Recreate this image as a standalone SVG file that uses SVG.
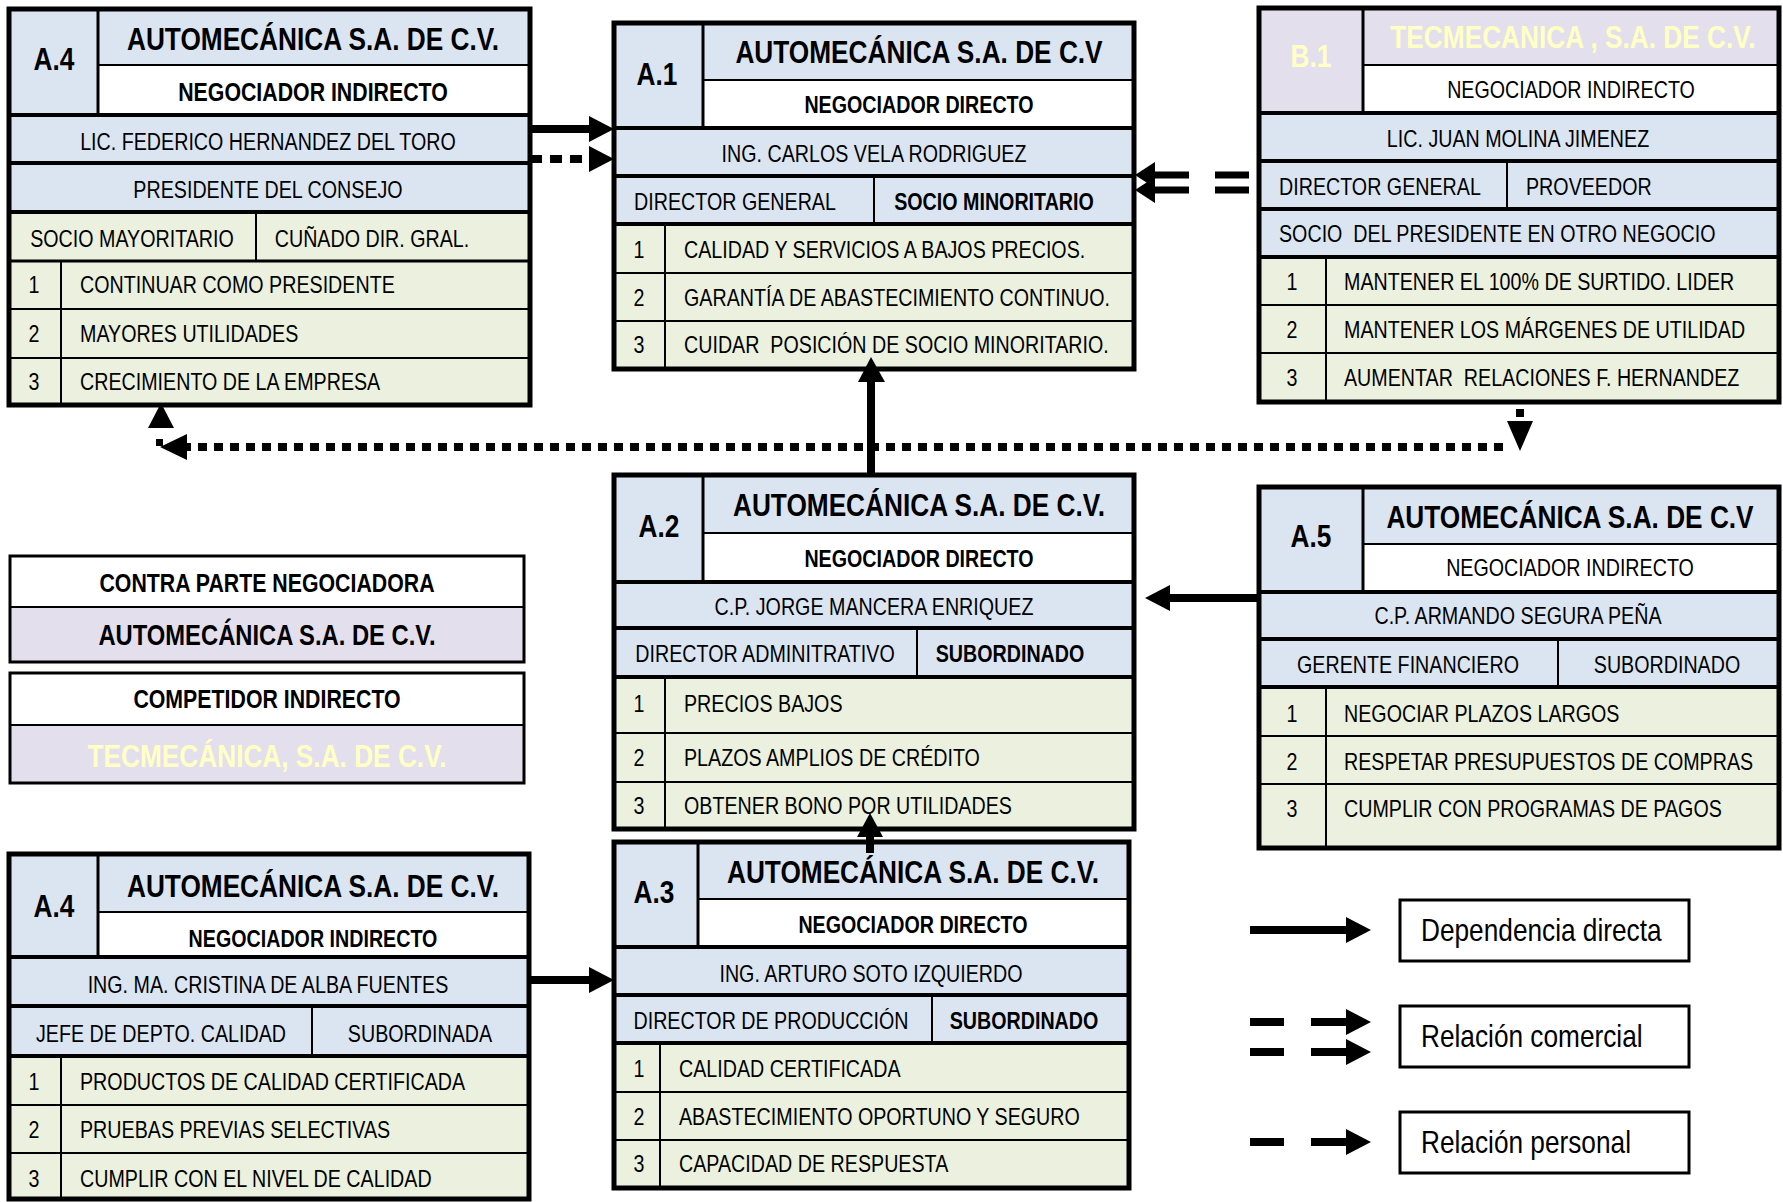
<svg xmlns="http://www.w3.org/2000/svg" width="1783" height="1202" viewBox="0 0 1783 1202">
<style>
text{font-family:"Liberation Sans",Arial,sans-serif;fill:#000}
.b{font-weight:bold}
.c{text-anchor:middle}
.f32{font-size:32px}.f26{font-size:26px}.f24{font-size:24px}.f29{font-size:29px}
.y{fill:#ffffc6}
.bl{fill:#dbe5f1}.gr{fill:#ebf1de}.pu{fill:#e4dfec}.wh{fill:#fff}
.o{fill:none;stroke:#000;stroke-width:5}
.o3{fill:none;stroke:#000;stroke-width:3}
.k{stroke:#000;stroke-width:4}
.n{stroke:#000;stroke-width:2}
.cn{stroke:#000;stroke-width:8;fill:none}
.dt{stroke:#000;stroke-width:8;stroke-dasharray:9 7;fill:none}
.ah{fill:#000}
</style>
<rect width="1783" height="1202" fill="#fff"/>

<!-- A.4 top -->
<g id="A4top">
<rect class="bl" x="9" y="9" width="89" height="106"/>
<rect class="bl" x="98" y="9" width="432" height="56"/>
<rect class="wh" x="98" y="65" width="432" height="50"/>
<rect class="bl" x="9" y="115" width="521" height="97"/>
<rect class="gr" x="9" y="212" width="521" height="193"/>
<line class="n" x1="98" y1="9" x2="98" y2="115" style="stroke-width:3"/>
<line class="n" x1="98" y1="65" x2="530" y2="65"/>
<line class="k" x1="9" y1="115" x2="530" y2="115"/>
<line class="k" x1="9" y1="163" x2="530" y2="163"/>
<line class="k" x1="9" y1="212" x2="530" y2="212"/>
<line class="n" x1="9" y1="261" x2="530" y2="261" style="stroke-width:3"/>
<line class="n" x1="256" y1="212" x2="256" y2="261"/>
<line class="n" x1="61" y1="261" x2="61" y2="405"/>
<line class="n" x1="9" y1="309" x2="530" y2="309"/>
<line class="n" x1="9" y1="358" x2="530" y2="358"/>
<rect class="o" x="9" y="9" width="521" height="396"/>
<text class="b c f32" transform="translate(54 70) scale(.82 1)">A.4</text>
<text class="b c f32" transform="translate(313 50) scale(.82 1)">AUTOMECÁNICA S.A. DE C.V.</text>
<text class="b c f26" transform="translate(313 101) scale(.82 1)">NEGOCIADOR INDIRECTO</text>
<text class="c f24" transform="translate(268 150) scale(.82 1)">LIC. FEDERICO HERNANDEZ DEL TORO</text>
<text class="c f24" transform="translate(268 198) scale(.82 1)">PRESIDENTE DEL CONSEJO</text>
<text class="c f24" transform="translate(132 247) scale(.82 1)">SOCIO MAYORITARIO</text>
<text class="c f24" transform="translate(372 247) scale(.82 1)">CUÑADO DIR. GRAL.</text>
<text class="c f24" transform="translate(34 293) scale(.82 1)">1</text>
<text class="f24" transform="translate(80 293) scale(.82 1)">CONTINUAR COMO PRESIDENTE</text>
<text class="c f24" transform="translate(34 342) scale(.82 1)">2</text>
<text class="f24" transform="translate(80 342) scale(.82 1)">MAYORES UTILIDADES</text>
<text class="c f24" transform="translate(34 390) scale(.82 1)">3</text>
<text class="f24" transform="translate(80 390) scale(.82 1)">CRECIMIENTO DE LA EMPRESA</text>
</g>

<!-- A.1 -->
<g id="A1">
<rect class="bl" x="614" y="23" width="89" height="105"/>
<rect class="bl" x="703" y="23" width="431" height="57"/>
<rect class="wh" x="703" y="80" width="431" height="48"/>
<rect class="bl" x="614" y="128" width="520" height="96"/>
<rect class="gr" x="614" y="224" width="520" height="145"/>
<line class="n" x1="703" y1="23" x2="703" y2="128" style="stroke-width:3"/>
<line class="n" x1="703" y1="80" x2="1134" y2="80"/>
<line class="k" x1="614" y1="128" x2="1134" y2="128"/>
<line class="k" x1="614" y1="176" x2="1134" y2="176"/>
<line class="k" x1="614" y1="224" x2="1134" y2="224"/>
<line class="n" x1="874" y1="176" x2="874" y2="224"/>
<line class="n" x1="665" y1="224" x2="665" y2="369"/>
<line class="n" x1="614" y1="273" x2="1134" y2="273"/>
<line class="n" x1="614" y1="321" x2="1134" y2="321"/>
<rect class="o" x="614" y="23" width="520" height="346"/>
<text class="b c f32" transform="translate(657 85) scale(.82 1)">A.1</text>
<text class="b c f32" transform="translate(919 63) scale(.82 1)">AUTOMECÁNICA S.A. DE C.V</text>
<text class="b c f24" transform="translate(919 113) scale(.82 1)">NEGOCIADOR DIRECTO</text>
<text class="c f24" transform="translate(874 162) scale(.82 1)">ING. CARLOS VELA RODRIGUEZ</text>
<text class="c f24" transform="translate(735 210) scale(.82 1)">DIRECTOR GENERAL</text>
<text class="b c f24" transform="translate(994 210) scale(.82 1)">SOCIO MINORITARIO</text>
<text class="c f24" transform="translate(639 258) scale(.82 1)">1</text>
<text class="f24" transform="translate(684 258) scale(.82 1)">CALIDAD Y SERVICIOS A BAJOS PRECIOS.</text>
<text class="c f24" transform="translate(639 306) scale(.82 1)">2</text>
<text class="f24" transform="translate(684 306) scale(.82 1)">GARANTÍA DE ABASTECIMIENTO CONTINUO.</text>
<text class="c f24" transform="translate(639 353) scale(.82 1)">3</text>
<text class="f24" transform="translate(684 353) scale(.82 1)" xml:space="preserve">CUIDAR  POSICIÓN DE SOCIO MINORITARIO.</text>
</g>

<!-- B.1 -->
<g id="B1">
<rect class="pu" x="1259" y="8" width="104" height="105"/>
<rect class="pu" x="1363" y="8" width="416" height="57"/>
<rect class="wh" x="1363" y="65" width="416" height="48"/>
<rect class="bl" x="1259" y="113" width="520" height="144"/>
<rect class="gr" x="1259" y="257" width="520" height="145"/>
<line class="n" x1="1363" y1="8" x2="1363" y2="113" style="stroke-width:3"/>
<line class="n" x1="1363" y1="65" x2="1779" y2="65"/>
<line class="k" x1="1259" y1="113" x2="1779" y2="113"/>
<line class="k" x1="1259" y1="161" x2="1779" y2="161"/>
<line class="k" x1="1259" y1="209" x2="1779" y2="209"/>
<line class="k" x1="1259" y1="257" x2="1779" y2="257"/>
<line class="n" x1="1507" y1="161" x2="1507" y2="209"/>
<line class="n" x1="1326" y1="257" x2="1326" y2="402"/>
<line class="n" x1="1259" y1="305" x2="1779" y2="305"/>
<line class="n" x1="1259" y1="353" x2="1779" y2="353"/>
<rect class="o" x="1259" y="8" width="520" height="394"/>
<text class="b c f32 y" transform="translate(1311 67) scale(.82 1)">B.1</text>
<text class="b c f32 y" transform="translate(1573 48) scale(.82 1)">TECMECANICA , S.A. DE C.V.</text>
<text class="c f24" transform="translate(1571 98) scale(.82 1)">NEGOCIADOR INDIRECTO</text>
<text class="c f24" transform="translate(1518 147) scale(.82 1)">LIC. JUAN MOLINA JIMENEZ</text>
<text class="f24" transform="translate(1279 195) scale(.82 1)">DIRECTOR GENERAL</text>
<text class="f24" transform="translate(1526 195) scale(.82 1)">PROVEEDOR</text>
<text class="f24" transform="translate(1279 242) scale(.82 1)" xml:space="preserve">SOCIO  DEL PRESIDENTE EN OTRO NEGOCIO</text>
<text class="c f24" transform="translate(1292 290) scale(.82 1)">1</text>
<text class="f24" transform="translate(1344 290) scale(.82 1)">MANTENER EL 100% DE SURTIDO. LIDER</text>
<text class="c f24" transform="translate(1292 338) scale(.82 1)">2</text>
<text class="f24" transform="translate(1344 338) scale(.82 1)">MANTENER LOS MÁRGENES DE UTILIDAD</text>
<text class="c f24" transform="translate(1292 386) scale(.82 1)">3</text>
<text class="f24" transform="translate(1344 386) scale(.82 1)" xml:space="preserve">AUMENTAR  RELACIONES F. HERNANDEZ</text>
</g>

<!-- A.2 -->
<g id="A2">
<rect class="bl" x="614" y="475" width="89" height="107"/>
<rect class="bl" x="703" y="475" width="431" height="58"/>
<rect class="wh" x="703" y="533" width="431" height="49"/>
<rect class="bl" x="614" y="582" width="520" height="95"/>
<rect class="gr" x="614" y="677" width="520" height="152"/>
<line class="n" x1="703" y1="475" x2="703" y2="582" style="stroke-width:3"/>
<line class="n" x1="703" y1="533" x2="1134" y2="533"/>
<line class="k" x1="614" y1="582" x2="1134" y2="582"/>
<line class="k" x1="614" y1="628" x2="1134" y2="628"/>
<line class="k" x1="614" y1="677" x2="1134" y2="677"/>
<line class="n" x1="917" y1="628" x2="917" y2="677"/>
<line class="n" x1="665" y1="677" x2="665" y2="829"/>
<line class="n" x1="614" y1="733" x2="1134" y2="733"/>
<line class="n" x1="614" y1="782" x2="1134" y2="782"/>
<rect class="o" x="614" y="475" width="520" height="354"/>
<text class="b c f32" transform="translate(659 537) scale(.82 1)">A.2</text>
<text class="b c f32" transform="translate(919 516) scale(.82 1)">AUTOMECÁNICA S.A. DE C.V.</text>
<text class="b c f24" transform="translate(919 567) scale(.82 1)">NEGOCIADOR DIRECTO</text>
<text class="c f24" transform="translate(874 615) scale(.82 1)">C.P. JORGE MANCERA ENRIQUEZ</text>
<text class="c f24" transform="translate(765 662) scale(.82 1)">DIRECTOR ADMINITRATIVO</text>
<text class="b c f24" transform="translate(1010 662) scale(.82 1)">SUBORDINADO</text>
<text class="c f24" transform="translate(639 712) scale(.82 1)">1</text>
<text class="f24" transform="translate(684 712) scale(.82 1)">PRECIOS BAJOS</text>
<text class="c f24" transform="translate(639 766) scale(.82 1)">2</text>
<text class="f24" transform="translate(684 766) scale(.82 1)">PLAZOS AMPLIOS DE CRÉDITO</text>
<text class="c f24" transform="translate(639 814) scale(.82 1)">3</text>
<text class="f24" transform="translate(684 814) scale(.82 1)">OBTENER BONO POR UTILIDADES</text>
</g>

<!-- A.3 -->
<g id="A3">
<rect class="bl" x="614" y="842" width="84" height="105"/>
<rect class="bl" x="698" y="842" width="431" height="57"/>
<rect class="wh" x="698" y="899" width="431" height="48"/>
<rect class="bl" x="614" y="947" width="515" height="96"/>
<rect class="gr" x="614" y="1043" width="515" height="145"/>
<line class="n" x1="698" y1="842" x2="698" y2="947" style="stroke-width:3"/>
<line class="n" x1="698" y1="899" x2="1129" y2="899"/>
<line class="k" x1="614" y1="947" x2="1129" y2="947"/>
<line class="k" x1="614" y1="995" x2="1129" y2="995"/>
<line class="k" x1="614" y1="1043" x2="1129" y2="1043"/>
<line class="n" x1="932" y1="995" x2="932" y2="1043"/>
<line class="n" x1="660" y1="1043" x2="660" y2="1188"/>
<line class="n" x1="614" y1="1092" x2="1129" y2="1092"/>
<line class="n" x1="614" y1="1140" x2="1129" y2="1140"/>
<rect class="o" x="614" y="842" width="515" height="346"/>
<text class="b c f32" transform="translate(654 903) scale(.82 1)">A.3</text>
<text class="b c f32" transform="translate(913 883) scale(.82 1)">AUTOMECÁNICA S.A. DE C.V.</text>
<text class="b c f24" transform="translate(913 933) scale(.82 1)">NEGOCIADOR DIRECTO</text>
<text class="c f24" transform="translate(871 982) scale(.82 1)">ING. ARTURO SOTO IZQUIERDO</text>
<text class="c f24" transform="translate(771 1029) scale(.82 1)">DIRECTOR DE PRODUCCIÓN</text>
<text class="b c f24" transform="translate(1024 1029) scale(.82 1)">SUBORDINADO</text>
<text class="c f24" transform="translate(639 1077) scale(.82 1)">1</text>
<text class="f24" transform="translate(679 1077) scale(.82 1)">CALIDAD CERTIFICADA</text>
<text class="c f24" transform="translate(639 1125) scale(.82 1)">2</text>
<text class="f24" transform="translate(679 1125) scale(.82 1)">ABASTECIMIENTO OPORTUNO Y SEGURO</text>
<text class="c f24" transform="translate(639 1172) scale(.82 1)">3</text>
<text class="f24" transform="translate(679 1172) scale(.82 1)">CAPACIDAD DE RESPUESTA</text>
</g>

<!-- A.5 -->
<g id="A5">
<rect class="bl" x="1259" y="487" width="104" height="105"/>
<rect class="bl" x="1363" y="487" width="416" height="57"/>
<rect class="wh" x="1363" y="544" width="416" height="48"/>
<rect class="bl" x="1259" y="592" width="520" height="95"/>
<rect class="gr" x="1259" y="687" width="520" height="161"/>
<line class="n" x1="1363" y1="487" x2="1363" y2="592" style="stroke-width:3"/>
<line class="n" x1="1363" y1="544" x2="1779" y2="544"/>
<line class="k" x1="1259" y1="592" x2="1779" y2="592"/>
<line class="k" x1="1259" y1="639" x2="1779" y2="639"/>
<line class="k" x1="1259" y1="687" x2="1779" y2="687"/>
<line class="n" x1="1558" y1="639" x2="1558" y2="687"/>
<line class="n" x1="1326" y1="687" x2="1326" y2="848"/>
<line class="n" x1="1259" y1="736" x2="1779" y2="736"/>
<line class="n" x1="1259" y1="784" x2="1779" y2="784"/>
<rect class="o" x="1259" y="487" width="520" height="361"/>
<text class="b c f32" transform="translate(1311 547) scale(.82 1)">A.5</text>
<text class="b c f32" transform="translate(1570 528) scale(.82 1)">AUTOMECÁNICA S.A. DE C.V</text>
<text class="c f24" transform="translate(1570 576) scale(.82 1)">NEGOCIADOR INDIRECTO</text>
<text class="c f24" transform="translate(1518 624) scale(.82 1)">C.P. ARMANDO SEGURA PEÑA</text>
<text class="c f24" transform="translate(1408 673) scale(.82 1)">GERENTE FINANCIERO</text>
<text class="c f24" transform="translate(1667 673) scale(.82 1)">SUBORDINADO</text>
<text class="c f24" transform="translate(1292 722) scale(.82 1)">1</text>
<text class="f24" transform="translate(1344 722) scale(.82 1)">NEGOCIAR PLAZOS LARGOS</text>
<text class="c f24" transform="translate(1292 770) scale(.82 1)">2</text>
<text class="f24" transform="translate(1344 770) scale(.82 1)">RESPETAR PRESUPUESTOS DE COMPRAS</text>
<text class="c f24" transform="translate(1292 817) scale(.82 1)">3</text>
<text class="f24" transform="translate(1344 817) scale(.82 1)">CUMPLIR CON PROGRAMAS DE PAGOS</text>
</g>

<!-- A.4 bottom -->
<g id="A4bottom">
<rect class="bl" x="9" y="854" width="89" height="103"/>
<rect class="bl" x="98" y="854" width="431" height="58"/>
<rect class="wh" x="98" y="912" width="431" height="45"/>
<rect class="bl" x="9" y="957" width="520" height="99"/>
<rect class="gr" x="9" y="1056" width="520" height="144"/>
<line class="n" x1="98" y1="854" x2="98" y2="957" style="stroke-width:3"/>
<line class="n" x1="98" y1="912" x2="529" y2="912"/>
<line class="k" x1="9" y1="957" x2="529" y2="957"/>
<line class="k" x1="9" y1="1006" x2="529" y2="1006"/>
<line class="k" x1="9" y1="1056" x2="529" y2="1056"/>
<line class="n" x1="312" y1="1006" x2="312" y2="1056"/>
<line class="n" x1="61" y1="1056" x2="61" y2="1200"/>
<line class="n" x1="9" y1="1105" x2="529" y2="1105"/>
<line class="n" x1="9" y1="1153" x2="529" y2="1153"/>
<rect class="o" x="9" y="854" width="520" height="345"/>
<text class="b c f32" transform="translate(54 917) scale(.82 1)">A.4</text>
<text class="b c f32" transform="translate(313 897) scale(.82 1)">AUTOMECÁNICA S.A. DE C.V.</text>
<text class="b c f24" transform="translate(313 947) scale(.82 1)">NEGOCIADOR INDIRECTO</text>
<text class="c f24" transform="translate(268 993) scale(.82 1)">ING. MA. CRISTINA DE ALBA FUENTES</text>
<text class="c f24" transform="translate(161 1042) scale(.82 1)">JEFE DE DEPTO. CALIDAD</text>
<text class="c f24" transform="translate(420 1042) scale(.82 1)">SUBORDINADA</text>
<text class="c f24" transform="translate(34 1090) scale(.82 1)">1</text>
<text class="f24" transform="translate(80 1090) scale(.82 1)">PRODUCTOS DE CALIDAD CERTIFICADA</text>
<text class="c f24" transform="translate(34 1138) scale(.82 1)">2</text>
<text class="f24" transform="translate(80 1138) scale(.82 1)">PRUEBAS PREVIAS SELECTIVAS</text>
<text class="c f24" transform="translate(34 1187) scale(.82 1)">3</text>
<text class="f24" transform="translate(80 1187) scale(.82 1)">CUMPLIR CON EL NIVEL DE CALIDAD</text>
</g>

<!-- Legend: parties -->
<g id="legend-contraparte">
<rect class="wh" x="10" y="556" width="514" height="51"/>
<rect class="pu" x="10" y="607" width="514" height="55"/>
<line class="n" x1="10" y1="607" x2="524" y2="607"/>
<rect class="o3" x="10" y="556" width="514" height="106"/>
<text class="b c f26" transform="translate(267 592) scale(.82 1)">CONTRA PARTE NEGOCIADORA</text>
<text class="b c f29" transform="translate(267 645) scale(.82 1)">AUTOMECÁNICA S.A. DE C.V.</text>
</g>
<g id="legend-competidor">
<rect class="wh" x="10" y="673" width="514" height="52"/>
<rect class="pu" x="10" y="725" width="514" height="58"/>
<line class="n" x1="10" y1="725" x2="524" y2="725"/>
<rect class="o3" x="10" y="673" width="514" height="110"/>
<text class="b c f26" transform="translate(267 708) scale(.82 1)">COMPETIDOR INDIRECTO</text>
<text class="b c f32 y" transform="translate(267 767) scale(.82 1)">TECMECÁNICA, S.A. DE C.V.</text>
</g>

<!-- Legend: connector types -->
<g id="legend-dependencia">
<line class="cn" x1="1250" y1="930" x2="1348" y2="930"/>
<polygon class="ah" points="1346,917 1346,943 1371,930"/>
<rect class="wh o3" x="1400" y="900" width="289" height="61"/>
<text class="f32" transform="translate(1421 941) scale(.82 1)">Dependencia directa</text>
</g>
<g id="legend-comercial">
<line class="cn" x1="1250" y1="1022" x2="1284" y2="1022"/>
<line class="cn" x1="1250" y1="1052" x2="1284" y2="1052"/>
<line class="cn" x1="1311" y1="1022" x2="1348" y2="1022"/>
<line class="cn" x1="1311" y1="1052" x2="1348" y2="1052"/>
<polygon class="ah" points="1346,1009 1346,1035 1371,1022"/>
<polygon class="ah" points="1346,1039 1346,1065 1371,1052"/>
<rect class="wh o3" x="1400" y="1006" width="289" height="61"/>
<text class="f32" transform="translate(1421 1047) scale(.82 1)">Relación comercial</text>
</g>
<g id="legend-personal">
<line class="cn" x1="1250" y1="1142" x2="1284" y2="1142"/>
<line class="cn" x1="1311" y1="1142" x2="1348" y2="1142"/>
<polygon class="ah" points="1346,1129 1346,1155 1371,1142"/>
<rect class="wh o3" x="1400" y="1112" width="289" height="61"/>
<text class="f32" transform="translate(1421 1153) scale(.82 1)">Relación personal</text>
</g>

<!-- Connectors -->
<g id="connectors">
<line class="cn" x1="528" y1="129" x2="591" y2="129"/>
<polygon class="ah" points="589,116 589,142 614,129"/>
<line class="cn" x1="530" y1="159" x2="589" y2="159" style="stroke-dasharray:12 8"/>
<polygon class="ah" points="589,146 589,172 614,159"/>
<line class="cn" x1="1153" y1="175" x2="1189" y2="175" style="stroke-width:7"/>
<line class="cn" x1="1153" y1="190" x2="1189" y2="190" style="stroke-width:7"/>
<line class="cn" x1="1215" y1="175" x2="1249" y2="175" style="stroke-width:7"/>
<line class="cn" x1="1215" y1="190" x2="1249" y2="190" style="stroke-width:7"/>
<polygon class="ah" points="1155,162 1155,188 1135,175"/>
<polygon class="ah" points="1155,177 1155,203 1135,190"/>
<line class="cn" x1="871" y1="475" x2="871" y2="380"/>
<polygon class="ah" points="858,382 885,382 871,357"/>
<line class="dt" x1="1503" y1="447" x2="187" y2="447"/>
<polygon class="ah" points="187,434 187,460 160,447"/>
<rect class="ah" x="156" y="439" width="7" height="7"/>
<polygon class="ah" points="148,428 174,428 161,403"/>
<polygon class="ah" points="1507,421 1533,421 1520,451"/>
<rect class="ah" x="1516" y="409" width="8" height="8"/>
<line class="cn" x1="1259" y1="598" x2="1168" y2="598"/>
<polygon class="ah" points="1170,585 1170,611 1145,598"/>
<line class="cn" x1="870" y1="853" x2="870" y2="835"/>
<polygon class="ah" points="857,837 883,837 870,813"/>
<line class="cn" x1="529" y1="980" x2="591" y2="980"/>
<polygon class="ah" points="589,967 589,993 614,980"/>
</g>
</svg>
